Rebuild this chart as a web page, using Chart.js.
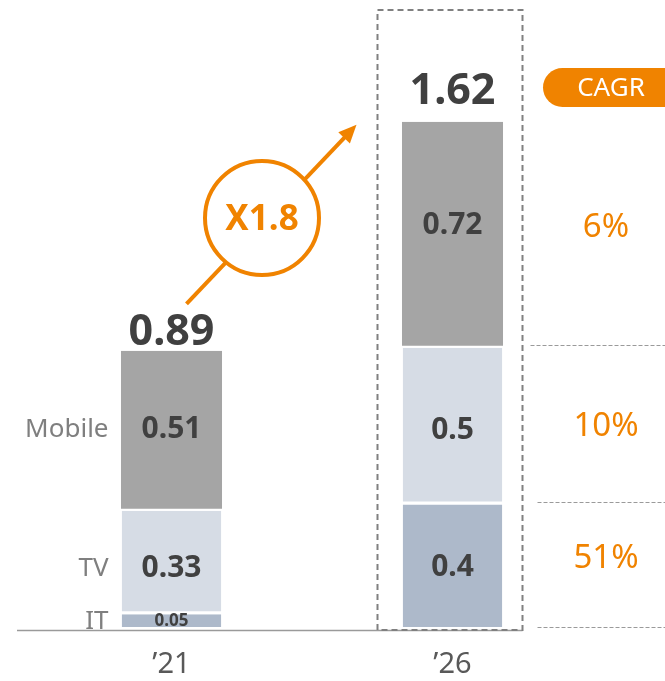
<!DOCTYPE html>
<html lang="en">
<head>
<meta charset="UTF-8" />
<title>Market Size '21 vs '26</title>
<script src="https://cdn.jsdelivr.net/npm/chart.js"></script>
<style>
  html, body { margin: 0; padding: 0; background: #fff; }
  .wrap { width: 665px; height: 681px; }
</style>
</head>
<body>
<div class="wrap"><canvas id="chart" width="665" height="681"></canvas></div>
<script>
  // data
  const years = ["\u201921", "\u201926"];
  const itValues = [0.05, 0.4];
  const tvValues = [0.33, 0.5];
  const mobileValues = [0.51, 0.72];
  const totals = ["0.89", "1.62"];
  const segmentNames = ["IT", "TV", "Mobile"];
  const cagrLabels = ["51%", "10%", "6%"]; // IT, TV, Mobile
  const growthLabel = "X1.8";

  const ORANGE = "#F08300";
  const DARK = "#404040";
  const FONT = "'Noto Sans', 'Open Sans', sans-serif";

  function font(size, weight) { return (weight || "normal") + " " + size + "px " + FONT; }

  // small nudges so labels sit where the original put them [dataset][bar]
  const labelNudge = [[-1, 0], [6, 4], [-1, -9]];
  const cagrNudge = [-9, 0, -7];

  const overlay = {
    id: "overlay",
    afterDatasetsDraw(chart) {
      const ctx = chart.ctx;
      const bars = chart.data.datasets.map((d, i) => chart.getDatasetMeta(i).data);
      const yScale = chart.scales.y;
      const base = yScale.getPixelForValue(0);
      const x21 = bars[0][0].x, x26 = bars[0][1].x;
      const top21 = bars[2][0].y, top26 = bars[2][1].y;
      ctx.save();

      // baseline
      ctx.strokeStyle = "#9a9a9a";
      ctx.lineWidth = 1.5;
      ctx.beginPath();
      ctx.moveTo(17, base + 0.5);
      ctx.lineTo(x26 + 70, base + 0.5);
      ctx.stroke();

      // dashed box around '26
      ctx.strokeStyle = "#808080";
      ctx.lineWidth = 2;
      ctx.setLineDash([6, 4]);
      ctx.strokeRect(x26 - 75, 10, 145, base - 10);

      // CAGR separators
      ctx.lineWidth = 1;
      ctx.strokeStyle = "#9a9a9a";
      ctx.setLineDash([4, 2]);
      [bars[1][1].y, bars[0][1].y, base].forEach((y, k) => {
        ctx.beginPath();
        ctx.moveTo(k === 0 ? x26 + 78 : x26 + 85, Math.round(y) - 2.5);
        ctx.lineTo(665, Math.round(y) - 2.5);
        ctx.stroke();
      });
      ctx.setLineDash([]);

      // segment values and names
      ctx.textAlign = "center";
      ctx.textBaseline = "middle";
      bars.forEach((set, d) => {
        set.forEach((bar, i) => {
          const cy = (bar.y + bar.base) / 2 + labelNudge[d][i];
          const small = d === 0 && i === 0;
          ctx.fillStyle = DARK;
          ctx.font = font(small ? 17 : 30, "bold");
          ctx.fillText(String(chart.data.datasets[d].data[i]), bar.x, cy);
        });
        const b = set[0];
        ctx.fillStyle = "#7f7f7f";
        ctx.font = font(26);
        ctx.textAlign = "right";
        ctx.fillText(segmentNames[d], x21 - 63, (b.y + b.base) / 2 + labelNudge[d][0]);
        ctx.textAlign = "center";
        // CAGR per segment
        const c = set[1];
        ctx.fillStyle = ORANGE;
        ctx.font = font(33);
        ctx.fillText(cagrLabels[d], 606, (c.y + c.base) / 2 + cagrNudge[d]);
      });

      // totals
      ctx.fillStyle = DARK;
      ctx.font = font(43, "bold");
      ctx.textBaseline = "alphabetic";
      ctx.fillText(totals[0], x21, top21 - 6);
      ctx.fillText(totals[1], x26, top26 - 18);

      // x labels
      ctx.fillStyle = "#595959";
      ctx.font = font(29);
      ctx.textBaseline = "middle";
      years.forEach((t, i) => ctx.fillText(t, bars[0][i].x, base + 35));

      // CAGR pill
      ctx.fillStyle = ORANGE;
      ctx.beginPath();
      ctx.roundRect(543, 68, 150, 39, 19.5);
      ctx.fill();
      ctx.fillStyle = "#fff";
      ctx.font = font(26);
      ctx.fillText("CAGR", 611, 89);

      // growth arrow
      const sx = x21 + 15, sy = top21 - 47;
      const ex = x26 - 96, ey = top26 + 3;
      const ang = Math.atan2(ey - sy, ex - sx);
      ctx.strokeStyle = ORANGE;
      ctx.fillStyle = ORANGE;
      ctx.lineWidth = 4;
      ctx.beginPath();
      ctx.moveTo(sx, sy);
      ctx.lineTo(ex - 12 * Math.cos(ang), ey - 12 * Math.sin(ang));
      ctx.stroke();
      ctx.beginPath();
      ctx.moveTo(ex, ey);
      ctx.lineTo(ex - 18 * Math.cos(ang) + 8 * Math.sin(ang), ey - 18 * Math.sin(ang) - 8 * Math.cos(ang));
      ctx.lineTo(ex - 18 * Math.cos(ang) - 8 * Math.sin(ang), ey - 18 * Math.sin(ang) + 8 * Math.cos(ang));
      ctx.closePath();
      ctx.fill();
      const cx = 262, cy = 218;
      ctx.beginPath();
      ctx.arc(cx, cy, 57, 0, Math.PI * 2);
      ctx.fillStyle = "#fff";
      ctx.fill();
      ctx.stroke();
      ctx.fillStyle = ORANGE;
      ctx.font = font(35, "bold");
      ctx.fillText(growthLabel, cx, cy + 2);

      ctx.restore();
    }
  };

  new Chart(document.getElementById("chart"), {
    type: "bar",
    data: {
      labels: years,
      datasets: [
        { label: "IT", data: itValues, backgroundColor: "#ADB9CA",
          borderColor: "#fff", borderWidth: { top: 0, bottom: 3, left: 1, right: 1 }, borderSkipped: false },
        { label: "TV", data: tvValues, backgroundColor: "#D6DCE5",
          borderColor: "#fff", borderWidth: { top: 0, bottom: 3, left: 1, right: 1 }, borderSkipped: false },
        { label: "Mobile", data: mobileValues, backgroundColor: "#A5A5A5",
          borderColor: "#fff", borderWidth: { top: 0, bottom: 2, left: 0, right: 0 }, borderSkipped: false }
      ]
    },
    options: {
      responsive: false,
      animation: false,
      devicePixelRatio: 1,
      layout: { padding: { left: 31, right: 72, top: 34, bottom: 51 } },
      datasets: { bar: { barPercentage: 0.36, categoryPercentage: 1 } },
      scales: {
        x: { stacked: true, display: false },
        y: { stacked: true, display: false, min: 0, max: 1.9 }
      },
      plugins: { legend: { display: false }, tooltip: { enabled: false } }
    },
    plugins: [overlay]
  });
</script>
</body>
</html>
